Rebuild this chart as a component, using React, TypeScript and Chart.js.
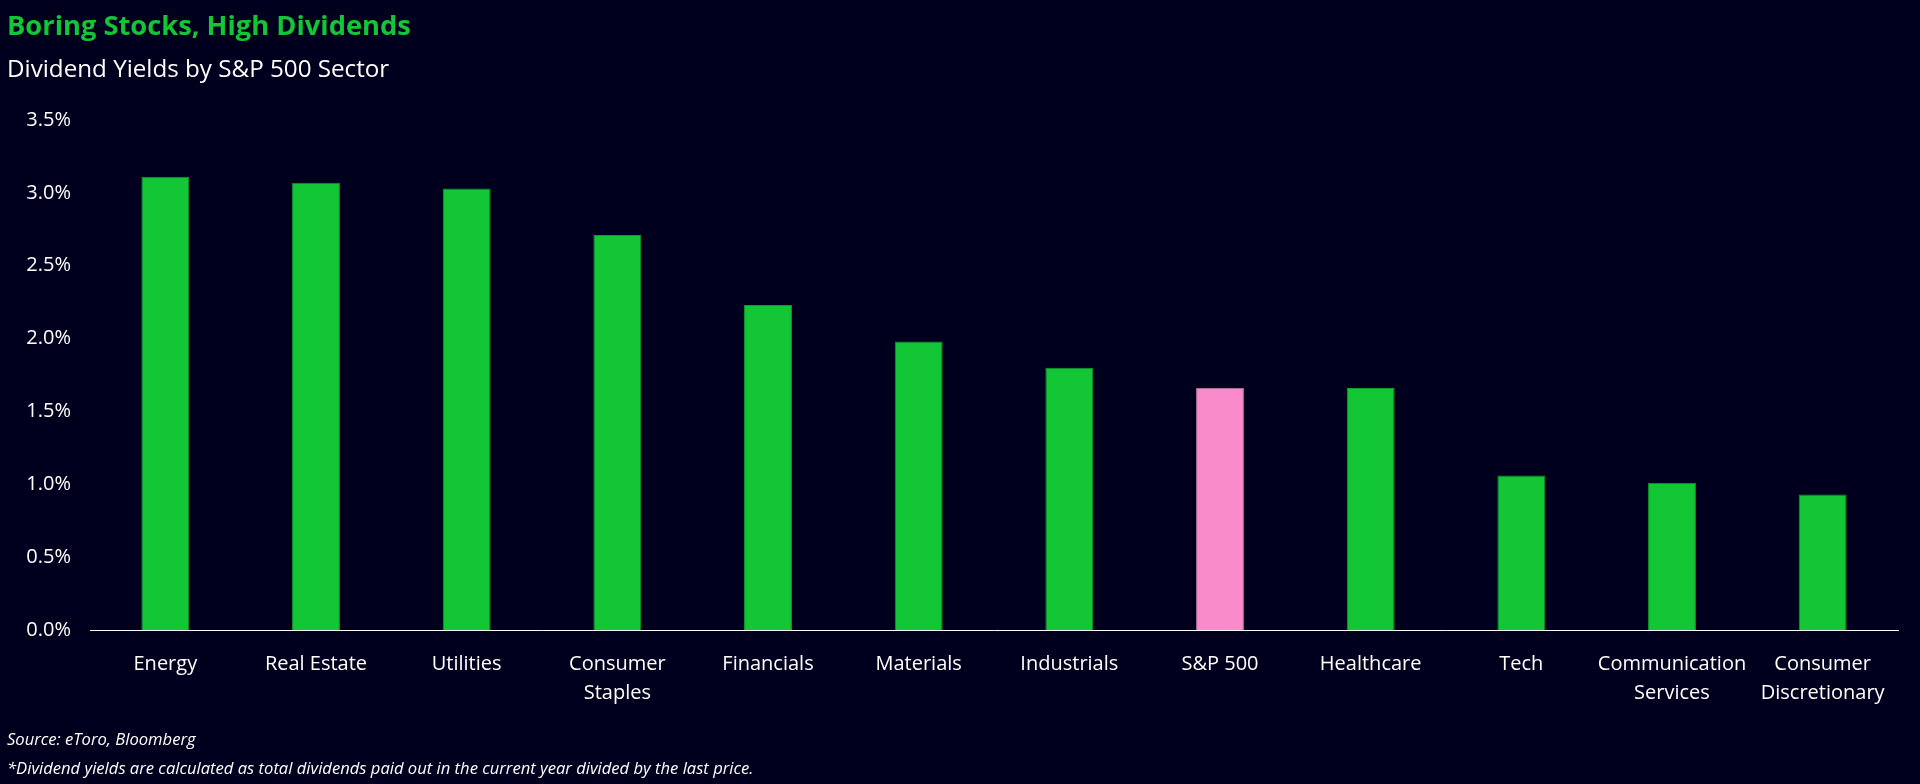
import React, { useEffect, useRef } from "react";
import { Chart, registerables } from "chart.js";

Chart.register(...registerables);

const categories: (string | string[])[] = [
  "Energy",
  "Real Estate",
  "Utilities",
  ["Consumer", "Staples"],
  "Financials",
  "Materials",
  "Industrials",
  "S&P 500",
  "Healthcare",
  "Tech",
  ["Communication", "Services"],
  ["Consumer", "Discretionary"],
];

const yields: number[] = [3.11, 3.07, 3.03, 2.71, 2.23, 1.98, 1.8, 1.66, 1.66, 1.06, 1.01, 0.93];

const highlightIndex = 7;

const yTickMin = 0;
const yTickMax = 3.5;
const yTickStep = 0.5;

const GREEN = "#13c636";
const GREEN_EDGE = "#0f9a2e";
const PINK = "#f98bcb";
const PINK_EDGE = "#a86a8f";
const BG = "#00001e";
const FONT = "'Open Sans', 'Noto Sans', sans-serif";

export default function App() {
  const canvasRef = useRef<HTMLCanvasElement | null>(null);

  useEffect(() => {
    const canvas = canvasRef.current;
    if (!canvas) return;
    const chart = new Chart(canvas, {
      type: "bar",
      data: {
        labels: categories,
        datasets: [
          {
            data: yields,
            backgroundColor: yields.map((_, i) => (i === highlightIndex ? PINK : GREEN)),
            borderColor: yields.map((_, i) => (i === highlightIndex ? PINK_EDGE : GREEN_EDGE)),
            borderWidth: 1,
            borderSkipped: "bottom",
            barPercentage: 0.318,
            categoryPercentage: 1,
          },
        ],
      },
      options: {
        animation: false,
        responsive: false,
        maintainAspectRatio: false,
        layout: { padding: { left: 0, right: 22, top: 120, bottom: 0 } },
        plugins: {
          legend: { display: false },
          tooltip: { enabled: false },
          title: { display: false },
        },
        scales: {
          x: {
            grid: { display: false, drawTicks: false },
            border: { display: true, color: "#ffffff", width: 1, z: 1 },
            ticks: {
              color: "#ffffff",
              padding: 20,
              maxRotation: 0,
              autoSkip: false,
              font: { family: FONT, size: 20, lineHeight: 1.45 },
            },
            afterFit: (scale: any) => {
              scale.height = 154;
            },
          },
          y: {
            min: yTickMin,
            max: yTickMax,
            grid: { display: false, drawTicks: false },
            border: { display: false },
            ticks: {
              stepSize: yTickStep,
              color: "#ffffff",
              padding: 19,
              font: { family: FONT, size: 20 },
              callback: (v: any) => Number(v).toFixed(1) + "%",
            },
            afterFit: (scale: any) => {
              scale.width = 90;
            },
          },
        },
      },
    });
    return () => chart.destroy();
  }, []);

  const textBase: React.CSSProperties = {
    position: "absolute",
    left: 7,
    fontFamily: FONT,
    whiteSpace: "nowrap",
    lineHeight: 1,
    margin: 0,
  };

  return (
    <div
      style={{
        position: "fixed",
        left: 0,
        top: 0,
        width: 1920,
        height: 784,
        background: BG,
        overflow: "hidden",
      }}
    >
      <canvas
        ref={canvasRef}
        width={1920}
        height={784}
        style={{ position: "absolute", left: 0, top: 0, width: 1920, height: 784 }}
      />
      <div style={{ ...textBase, top: 11, fontSize: 27.3, fontWeight: 700, color: GREEN }}>
        Boring Stocks, High Dividends
      </div>
      <div style={{ ...textBase, top: 56, fontSize: 24.2, color: "#ffffff" }}>
        Dividend Yields by S&amp;P 500 Sector
      </div>
      <div style={{ ...textBase, top: 731, fontSize: 16.6, fontStyle: "italic", color: "#ffffff" }}>
        Source: eToro, Bloomberg
      </div>
      <div style={{ ...textBase, top: 760, fontSize: 16.6, fontStyle: "italic", color: "#ffffff" }}>
        *Dividend yields are calculated as total dividends paid out in the current year divided by the last price.
      </div>
    </div>
  );
}
